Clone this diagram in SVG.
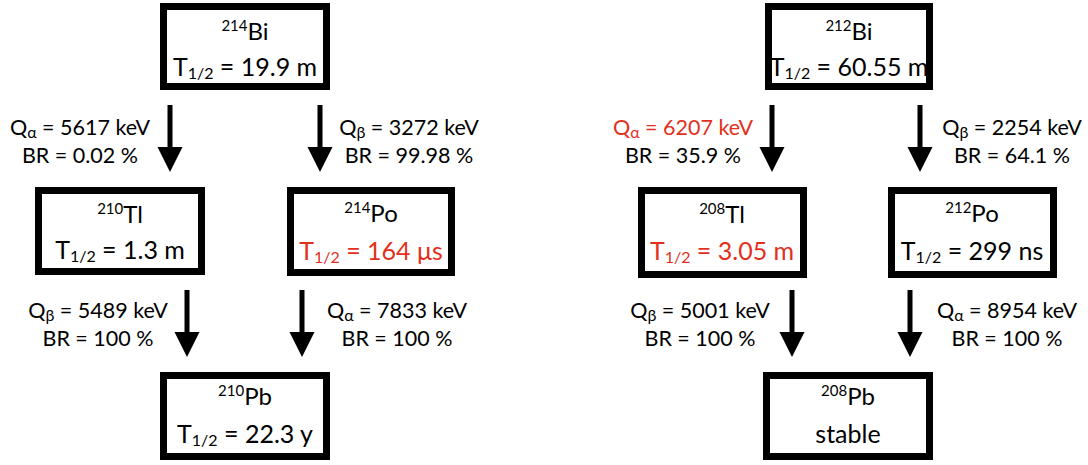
<svg xmlns="http://www.w3.org/2000/svg" xmlns:xlink="http://www.w3.org/1999/xlink" width="1088" height="465" viewBox="0 0 1088 465">
<style>
.box{fill:#fff;stroke:#000;stroke-width:7}
text{font-family:Lato,"Open Sans","Liberation Sans",sans-serif;fill:#000}
.n1{font-size:24px;text-anchor:middle}
.n2{font-size:25px;text-anchor:middle}
.lb{font-size:21.5px;text-anchor:middle}
.sup{font-size:15px}
.sub{font-size:16px}
.red{fill:#e2301c}
.arr{fill:#000}
</style>
<defs>
<path id="arr" d="M-2.5,0 H2.5 V42 H12.5 L0,67 L-12.5,42 H-2.5 Z"/>
</defs>
<rect width="1088" height="465" fill="#fff"/>
<g id="connectors" class="arr">
<use xlink:href="#arr" x="170" y="105"/>
<use xlink:href="#arr" x="320" y="105"/>
<use xlink:href="#arr" x="187" y="290"/>
<use xlink:href="#arr" x="302" y="290"/>
<use xlink:href="#arr" x="772" y="105"/>
<use xlink:href="#arr" x="920" y="105"/>
<use xlink:href="#arr" x="792" y="290"/>
<use xlink:href="#arr" x="910" y="290"/>
</g>
<g id="labels">
<text class="lb" x="80" y="135">Q<tspan class="sub" dy="3">α</tspan><tspan dy="-3"> = 5617 keV</tspan></text>
<text class="lb" x="80" y="163">BR = 0.02 %</text>
<text class="lb" x="409" y="135">Q<tspan class="sub" dy="3">β</tspan><tspan dy="-3"> = 3272 keV</tspan></text>
<text class="lb" x="409" y="163">BR = 99.98 %</text>
<text class="lb" x="98" y="318">Q<tspan class="sub" dy="3">β</tspan><tspan dy="-3"> = 5489 keV</tspan></text>
<text class="lb" x="98" y="346">BR = 100 %</text>
<text class="lb" x="397" y="318">Q<tspan class="sub" dy="3">α</tspan><tspan dy="-3"> = 7833 keV</tspan></text>
<text class="lb" x="397" y="346">BR = 100 %</text>
<text class="lb red" x="683" y="135">Q<tspan class="sub" dy="3">α</tspan><tspan dy="-3"> = 6207 keV</tspan></text>
<text class="lb" x="683" y="163">BR = 35.9 %</text>
<text class="lb" x="1012" y="135">Q<tspan class="sub" dy="3">β</tspan><tspan dy="-3"> = 2254 keV</tspan></text>
<text class="lb" x="1012" y="163">BR = 64.1 %</text>
<text class="lb" x="700" y="318">Q<tspan class="sub" dy="3">β</tspan><tspan dy="-3"> = 5001 keV</tspan></text>
<text class="lb" x="700" y="346">BR = 100 %</text>
<text class="lb" x="1007" y="318">Q<tspan class="sub" dy="3">α</tspan><tspan dy="-3"> = 8954 keV</tspan></text>
<text class="lb" x="1007" y="346">BR = 100 %</text>
</g>
<g id="bi214">
<rect class="box" x="163.5" y="6.5" width="163" height="80"/>
<text class="n1" x="245" y="40"><tspan class="sup" dy="-9">214</tspan><tspan dy="9">Bi</tspan></text>
<text class="n2" x="245" y="76">T<tspan class="sub" dy="3">1/2</tspan><tspan dy="-3"> = 19.9 m</tspan></text>
</g>
<g id="tl210">
<rect class="box" x="38.5" y="190.5" width="163" height="81"/>
<text class="n1" x="120" y="223"><tspan class="sup" dy="-9">210</tspan><tspan dy="9">Tl</tspan></text>
<text class="n2" x="120" y="259">T<tspan class="sub" dy="3">1/2</tspan><tspan dy="-3"> = 1.3 m</tspan></text>
</g>
<g id="po214">
<rect class="box" x="290.5" y="190.5" width="161" height="82"/>
<text class="n1" x="371" y="222"><tspan class="sup" dy="-9">214</tspan><tspan dy="9">Po</tspan></text>
<text class="n2 red" x="371" y="260">T<tspan class="sub" dy="3">1/2</tspan><tspan dy="-3"> = 164 μs</tspan></text>
</g>
<g id="pb210">
<rect class="box" x="163.5" y="375.5" width="163" height="81"/>
<text class="n1" x="245" y="405"><tspan class="sup" dy="-9">210</tspan><tspan dy="9">Pb</tspan></text>
<text class="n2" x="245" y="443">T<tspan class="sub" dy="3">1/2</tspan><tspan dy="-3"> = 22.3 y</tspan></text>
</g>
<g id="bi212">
<rect class="box" x="768.5" y="6.5" width="161" height="80"/>
<text class="n1" x="849" y="40"><tspan class="sup" dy="-9">212</tspan><tspan dy="9">Bi</tspan></text>
<text class="n2" x="849" y="76">T<tspan class="sub" dy="3">1/2</tspan><tspan dy="-3"> = 60.55 m</tspan></text>
</g>
<g id="tl208">
<rect class="box" x="641.5" y="190.5" width="162" height="84"/>
<text class="n1" x="722" y="223"><tspan class="sup" dy="-9">208</tspan><tspan dy="9">Tl</tspan></text>
<text class="n2 red" x="722" y="260">T<tspan class="sub" dy="3">1/2</tspan><tspan dy="-3"> = 3.05 m</tspan></text>
</g>
<g id="po212">
<rect class="box" x="891.5" y="190.5" width="162" height="84"/>
<text class="n1" x="972" y="222"><tspan class="sup" dy="-9">212</tspan><tspan dy="9">Po</tspan></text>
<text class="n2" x="972" y="260">T<tspan class="sub" dy="3">1/2</tspan><tspan dy="-3"> = 299 ns</tspan></text>
</g>
<g id="pb208">
<rect class="box" x="766.5" y="375.5" width="163" height="81"/>
<text class="n1" x="848" y="405"><tspan class="sup" dy="-9">208</tspan><tspan dy="9">Pb</tspan></text>
<text class="n2" x="848" y="443">stable</text>
</g>
</svg>
